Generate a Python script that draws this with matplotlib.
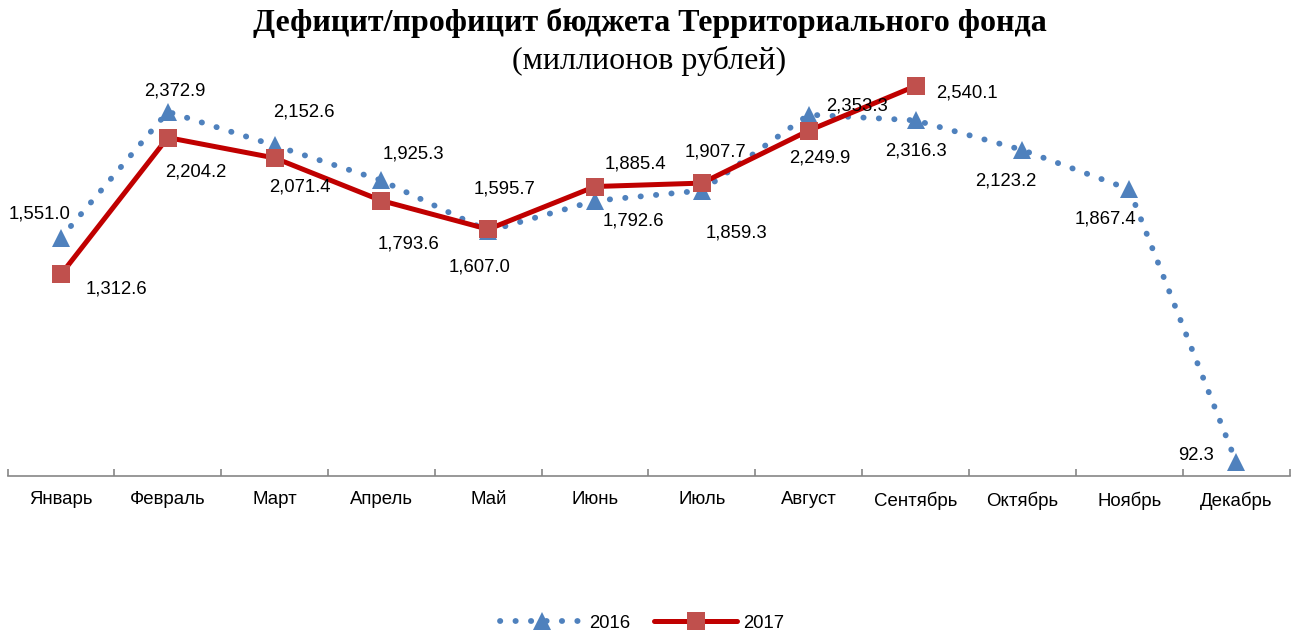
import matplotlib
matplotlib.use("Agg")
import matplotlib.pyplot as plt
import numpy as np

months = ["Январь", "Февраль", "Март", "Апрель", "Май", "Июнь", "Июль",
          "Август", "Сентябрь", "Октябрь", "Ноябрь", "Декабрь"]
v2016 = [1551.0, 2372.9, 2152.6, 1925.3, 1595.7, 1792.6, 1859.3,
         2353.3, 2316.3, 2123.2, 1867.4, 92.3]
v2017 = [1312.6, 2204.2, 2071.4, 1793.6, 1607.0, 1885.4, 1907.7,
         2249.9, 2540.1]

# label offsets in pixels (dx, dy)
off2016 = [(-21, 24), (7, 21), (29, 33), (32, 26), (16, 42), (38, -20), (35, -42),
           (48, 9), (0, -31), (-17, -31), (-24, -30), (-40, 6)]
off2017 = [(56, -15), (28, -34), (25, -29), (27, -43), (-9, -38), (40, 23), (14, 31),
           (11, -27), (51, -7)]

plt.rcParams['font.family'] = ['Liberation Sans', 'DejaVu Sans']

W, H = 1299, 632
fig = plt.figure(figsize=(W / 100, H / 100), dpi=100)
left, right = 7.5, 1289.5
y0 = 476
ymax = 3000
scale = (476 - 86) / 2540.1
top = y0 - ymax * scale
ax = fig.add_axes([left / W, (H - y0) / H, (right - left) / W, (y0 - top) / H])

x = np.arange(len(months))
x17 = np.arange(len(v2017))

ax.plot(x, v2016, color='#4F81BD', linewidth=4.2, linestyle=(0, (0.05, 2.6)),
        dash_capstyle='round', marker='^', markersize=13, markeredgewidth=0,
        markerfacecolor='#4F81BD', label='2016', zorder=3)
ax.plot(x17, v2017, color='#C00000', linewidth=3.6, solid_capstyle='round',
        marker='s', markersize=13.5, markerfacecolor='#C0504D', markeredgecolor='#C0504D',
        markeredgewidth=0, label='2017', zorder=4)

for xi, v, (dx, dy) in zip(x, v2016, off2016):
    ax.annotate(f"{v:,.1f}", (xi, v), xytext=(dx, dy), textcoords='offset pixels',
                ha='center', va='center', fontsize=13.3, color='black', zorder=5)
for xi, v, (dx, dy) in zip(x17, v2017, off2017):
    ax.annotate(f"{v:,.1f}", (xi, v), xytext=(dx, dy), textcoords='offset pixels',
                ha='center', va='center', fontsize=13.3, color='black', zorder=5)

ax.set_xlim(-0.5, len(months) - 0.5)
ax.set_ylim(0, ymax)
for s in ['top', 'right', 'left']:
    ax.spines[s].set_visible(False)
ax.spines['bottom'].set_color('#868686')
ax.spines['bottom'].set_linewidth(1.2)
ax.set_yticks([])
ax.set_xticks(x)
ax.set_xticklabels(months, fontsize=13.4)
ax.tick_params(axis='x', which='major', length=0, pad=11)
ax.set_xticks(np.arange(-0.5, len(months)), minor=True)
ax.tick_params(axis='x', which='minor', direction='in', length=5, width=1.2, color='#868686')

fig.text(0.5, 1 - 23 / H, "Дефицит/профицит бюджета Территориального фонда",
         ha='center', va='center', fontsize=23, fontweight='bold',
         family=['Liberation Serif', 'DejaVu Serif'])
fig.text(0.5, 1 - 61 / H, "(миллионов рублей)", ha='center', va='center', fontsize=23,
         family=['Liberation Serif', 'DejaVu Serif'])

leg = fig.legend(loc='center', bbox_to_anchor=(642 / W, 1 - 623 / H), ncol=2, frameon=False,
                 fontsize=13.3, handlelength=4.5, columnspacing=1.3, handletextpad=0.3)

fig.savefig('out.png', dpi=100)
